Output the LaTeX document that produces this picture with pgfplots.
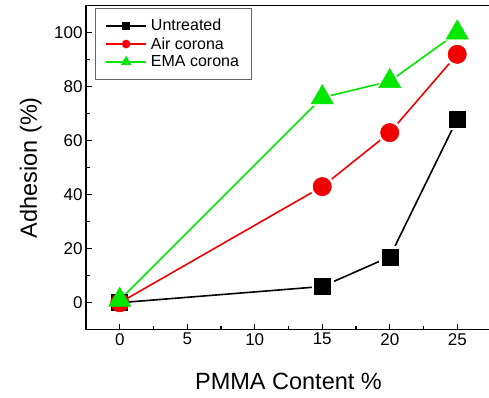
\documentclass[border=0pt]{standalone}
\usepackage{pgfplots}
\usepackage{pgfplotstable}
\pgfplotsset{compat=1.18}
\usepackage{fontspec}
\setmainfont{Liberation Sans}
\usetikzlibrary{calc}
\definecolor{ugreen}{RGB}{0,232,0}
\definecolor{ured}{RGB}{240,0,0}

% Adhesion (%) against PMMA content (%)
\pgfplotstableread{
x y
0 0
15 6
20 17
25 68
}\untreated
\pgfplotstableread{
x y
0 0
15 43
20 63
25 92
}\aircorona
\pgfplotstableread{
x y
0 1
15 76
20 82
25 100
}\emacorona

% white halo behind a marker, so lines stop short of it
\pgfplotsset{halo/.style={only marks, forget plot, white,
  mark options={draw=white, fill=white}, restrict x to domain=1:30}}

\begin{document}
\begin{tikzpicture}
\begin{axis}[
  scale only axis, width=405pt, height=324pt,
  xmin=-2.5, xmax=27.5, ymin=-10, ymax=110,
  xtick={0,5,...,25}, ytick={0,20,...,100},
  minor x tick num=1, minor y tick num=1,
  xtick pos=bottom, ytick pos=left,
  tick align=inside,
  major tick length=6pt, minor tick length=4pt,
  axis line style={line width=1.3pt},
  every tick/.style={line width=1.1pt, black},
  ticklabel style={font=\fontsize{17}{20}\selectfont},
  /pgf/number format/assume math mode=true,
  xlabel={PMMA Content \%}, ylabel={Adhesion (\%)},
  label style={font=\fontsize{23.5}{28}\selectfont},
  xlabel style={at={(axis description cs:0.5,-0.185)}, anchor=base},
  ylabel style={at={(axis description cs:-0.121,0.5)}, anchor=base},
  legend style={at={(axis description cs:0.0222,0.9929)}, anchor=north west,
    draw=black!60, line width=0.8pt, font=\fontsize{16}{19}\selectfont,
    inner xsep=10pt, inner ysep=9pt, row sep=1pt, column sep=2pt,
    cells={anchor=west}},
]
% Untreated
\addplot[black, line width=1.6pt, mark=none,
  legend image code/.code={\draw[mark=square*, mark repeat=2, mark phase=2,
    mark size=3pt] plot coordinates {(0pt,0pt)(20pt,0pt)(40pt,0pt)};}]
  table {\untreated};
\addlegendentry{Untreated}
\addplot[halo, mark=square*, mark size=10.5pt] table {\untreated};
\addplot[only marks, forget plot, black, mark=square*, mark size=8pt,
  mark options={line width=0.5pt}] table {\untreated};
% Air corona
\addplot[ured, line width=1.6pt, mark=none,
  legend image code/.code={\draw[mark=*, mark repeat=2, mark phase=2,
    mark size=3.5pt] plot coordinates {(0pt,0pt)(20pt,0pt)(40pt,0pt)};}]
  table {\aircorona};
\addlegendentry{Air corona}
\addplot[halo, mark=*, mark size=12pt] table {\aircorona};
\addplot[only marks, forget plot, ured, mark=*, mark size=9.2pt,
  mark options={line width=0.5pt}] table {\aircorona};
% EMA corona
\addplot[ugreen, line width=1.6pt, mark=none,
  legend image code/.code={\draw[mark=triangle*, mark repeat=2, mark phase=2,
    mark size=4.5pt] plot coordinates {(0pt,0pt)(20pt,0pt)(40pt,0pt)};}]
  table {\emacorona};
\addlegendentry{EMA corona}
\addplot[halo, mark=triangle*, mark size=16pt] table {\emacorona};
\addplot[only marks, forget plot, ugreen, mark=triangle*, mark size=12.8pt,
  mark options={line width=0.5pt}] table {\emacorona};
\coordinate (bl) at (rel axis cs:0,0);
\coordinate (tr) at (rel axis cs:1,1);
\end{axis}
\pgfresetboundingbox
\path ($(bl)+(-86pt,-67.3pt)$) rectangle ($(tr)+(-2pt,5.7pt)$);
\end{tikzpicture}
\end{document}
